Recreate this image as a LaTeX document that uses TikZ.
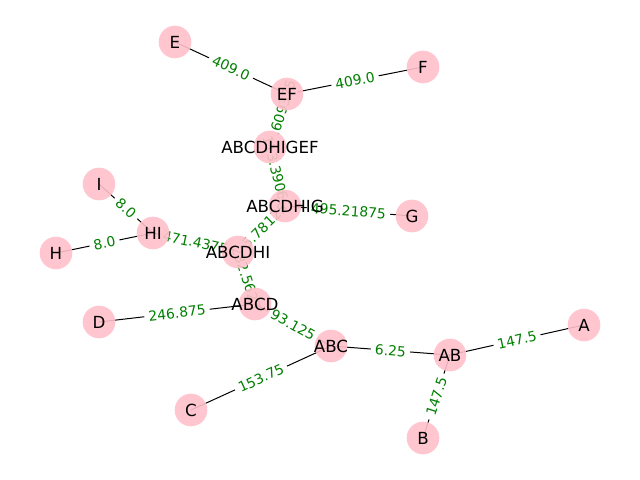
\documentclass[tikz,border=0pt]{standalone}
\usepackage{fontspec}
\setmainfont{DejaVu Sans}
\pgfdeclarelayer{bg}
\pgfsetlayers{bg,main}
\definecolor{nodepink}{HTML}{FFC0CB}
\definecolor{weightgreen}{HTML}{008000}
\begin{document}
\begin{tikzpicture}[x=0.72pt,y=-0.72pt,
    vertex/.style={circle,fill=nodepink,fill opacity=0.9,minimum size=23.5pt,inner sep=0pt,
        label={[text opacity=1,font=\fontsize{12}{14}\selectfont]center:#1}},
    weight/.style={midway,sloped,fill=white,rounded corners=3pt,inner sep=3pt,
        text=weightgreen,font=\fontsize{10}{12}\selectfont}]
\useasboundingbox (0,0) rectangle (640,480);

% Clusters and leaves
\foreach \n/\x/\y in {E/175/42, F/423/67, EF/287/94, ABCDHIGEF/270/147,
    ABCDHIG/285/206, G/412/216, I/99/184, HI/153/233, H/56/253,
    ABCDHI/238/252, ABCD/255/304, D/99/322, ABC/331/346, AB/450/355,
    A/584/325, C/191/410, B/423/438} {
    \node[vertex=\n] (\n) at (\x,\y) {};
}

% Merge distances
\begin{pgfonlayer}{bg}
\foreach \a/\b/\w in {E/EF/409.0, F/EF/409.0, EF/ABCDHIGEF/199.609375,
    ABCDHIG/ABCDHIGEF/113.390625, G/ABCDHIG/495.21875, ABCDHI/ABCDHIG/15.78125,
    HI/ABCDHI/471.4375, ABCD/ABCDHI/232.5625, I/HI/8.0, H/HI/8.0,
    D/ABCD/246.875, ABC/ABCD/93.125, C/ABC/153.75, AB/ABC/6.25,
    A/AB/147.5, B/AB/147.5} {
    \draw[line width=0.72pt] (\a.center) -- node[weight] {\w} (\b.center);
}
\end{pgfonlayer}

\end{tikzpicture}
\end{document}
